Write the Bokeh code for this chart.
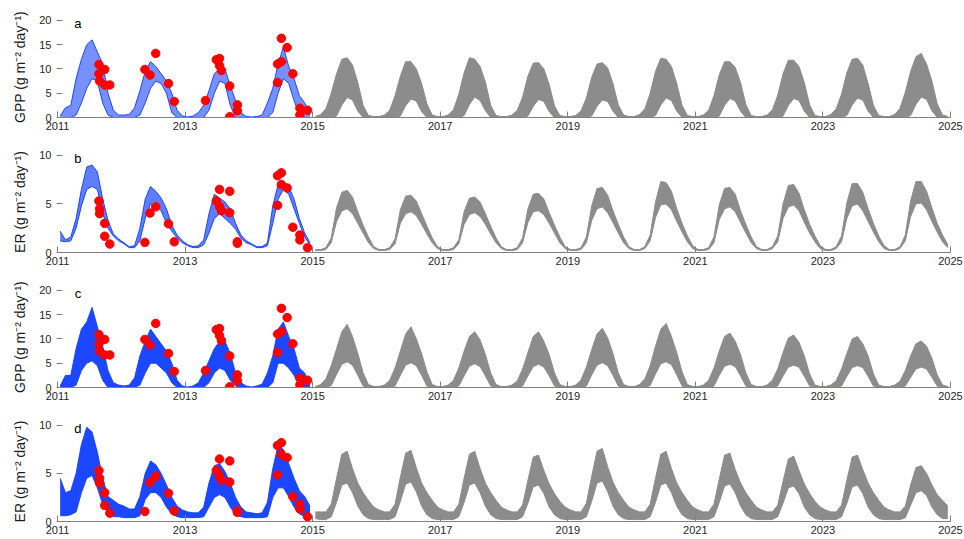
from bokeh.plotting import figure
from bokeh.layouts import column
from bokeh.models import Label, FixedTicker
from bokeh.embed import file_html
from bokeh.resources import INLINE

OBS_YEARS = [2011, 2012, 2013, 2014]
MOD_YEARS = [2015, 2016, 2017, 2018, 2019, 2020, 2021, 2022, 2023, 2024]
X_TICKS = [2011, 2013, 2015, 2017, 2019, 2021, 2023, 2025]

# ---------- panel a: GPP ----------
A_OBS_HI = [
    [0.3, 2.0, 2.5, 8.0, 12.0, 15.0, 16.0, 13.5, 11.0, 5.0, 1.5, 0.5],
    [0.5, 0.6, 2.0, 5.5, 9.5, 11.5, 10.5, 9.0, 7.5, 5.0, 1.5, 0.3],
    [0.1, 0.3, 1.0, 2.5, 5.5, 9.0, 10.0, 10.0, 6.5, 3.5, 1.0, 0.2],
    [0.1, 0.2, 0.5, 3.0, 6.0, 11.0, 14.5, 10.5, 8.0, 4.5, 3.0, 0.5],
]
A_OBS_LO = [
    [0, 0, 0, 0.5, 3.0, 6.0, 8.0, 7.5, 3.0, 0.5, 0, 0],
    [0, 0, 0, 0.5, 3.0, 6.0, 7.5, 7.0, 5.0, 1.0, 0, 0],
    [0, 0, 0, 0, 1.5, 5.0, 7.5, 7.0, 2.5, 0, 0, 0],
    [0, 0, 0, 0, 1.0, 5.0, 8.0, 7.0, 3.5, 0.5, 0, 0],
]
A_MOD_HI = [
    [0.2, 0.6, 1.8, 5.0, 9.0, 12.0, 12.3, 10.8, 7.2, 2.5, 0.4, 0.2],
    [0.2, 0.5, 1.5, 4.5, 8.5, 11.5, 11.5, 10.0, 7.0, 2.8, 0.5, 0.2],
    [0.2, 0.5, 1.6, 4.8, 9.2, 12.3, 12.0, 10.5, 7.3, 2.5, 0.4, 0.2],
    [0.2, 0.5, 1.5, 4.2, 8.5, 11.2, 11.3, 10.0, 6.8, 2.4, 0.4, 0.2],
    [0.2, 0.4, 1.4, 4.0, 8.3, 11.0, 11.3, 10.2, 7.0, 2.6, 0.5, 0.2],
    [0.2, 0.6, 1.8, 5.0, 9.5, 12.2, 12.0, 10.5, 7.0, 2.5, 0.4, 0.2],
    [0.2, 0.5, 1.5, 4.5, 8.8, 11.5, 11.5, 10.3, 7.2, 2.7, 0.4, 0.2],
    [0.2, 0.5, 1.6, 4.6, 9.0, 11.8, 11.8, 10.5, 7.2, 2.6, 0.4, 0.2],
    [0.2, 0.6, 1.8, 4.8, 9.2, 12.0, 12.2, 10.8, 7.0, 2.5, 0.4, 0.2],
    [0.2, 0.6, 1.9, 5.2, 9.5, 12.5, 13.2, 11.0, 7.5, 2.8, 0.5, 0.2],
]
A_MOD_LO = [
    [0, 0, 0, 0, 0.3, 2.6, 4.1, 3.6, 1.3, 0, 0, 0],
    [0, 0, 0, 0, 0.3, 2.4, 3.8, 3.4, 1.2, 0, 0, 0],
    [0, 0, 0, 0, 0.4, 2.7, 4.2, 3.5, 1.4, 0, 0, 0],
    [0, 0, 0, 0, 0.3, 2.3, 3.7, 3.3, 1.2, 0, 0, 0],
    [0, 0, 0, 0, 0.3, 2.3, 3.6, 3.3, 1.3, 0, 0, 0],
    [0, 0, 0, 0, 0.4, 2.6, 4.0, 3.5, 1.3, 0, 0, 0],
    [0, 0, 0, 0, 0.3, 2.5, 3.9, 3.4, 1.3, 0, 0, 0],
    [0, 0, 0, 0, 0.3, 2.5, 3.9, 3.5, 1.3, 0, 0, 0],
    [0, 0, 0, 0, 0.4, 2.6, 4.0, 3.6, 1.3, 0, 0, 0],
    [0, 0, 0, 0, 0.4, 2.7, 4.2, 3.7, 1.4, 0, 0, 0],
]

# ---------- panel b: ER ----------
B_OBS_HI = [
    [2.2, 1.3, 1.6, 3.5, 6.5, 8.8, 9.0, 8.3, 5.5, 3.3, 1.9, 1.4],
    [1.0, 0.6, 0.7, 2.5, 5.5, 6.8, 6.3, 5.6, 4.5, 2.8, 1.8, 1.2],
    [0.8, 0.6, 0.7, 1.3, 4.0, 6.0, 5.6, 5.2, 4.5, 3.0, 1.8, 1.2],
    [0.9, 0.6, 0.6, 1.0, 4.8, 7.0, 7.3, 6.8, 5.5, 3.5, 2.0, 1.0],
]
B_OBS_LO = [
    [1.2, 1.1, 1.2, 2.5, 4.8, 6.5, 6.8, 6.5, 4.0, 2.5, 1.7, 1.2],
    [0.9, 0.5, 0.5, 1.2, 3.5, 5.0, 4.8, 4.3, 3.0, 2.2, 1.5, 1.0],
    [0.7, 0.5, 0.5, 0.8, 2.0, 3.5, 4.0, 3.5, 3.0, 2.4, 1.5, 1.0],
    [0.8, 0.5, 0.5, 0.7, 3.0, 5.5, 6.5, 6.0, 4.5, 3.0, 1.6, 0.8],
]
B_MOD_HI = [
    [0.3, 0.3, 0.5, 1.5, 4.6, 6.2, 6.4, 5.7, 4.2, 2.8, 1.6, 0.6],
    [0.3, 0.3, 0.5, 1.4, 4.4, 5.8, 5.9, 5.3, 4.0, 2.7, 1.5, 0.6],
    [0.3, 0.3, 0.5, 1.3, 4.2, 5.6, 5.7, 5.2, 4.0, 2.7, 1.5, 0.6],
    [0.3, 0.3, 0.5, 1.5, 4.5, 6.0, 6.1, 5.5, 4.1, 2.8, 1.6, 0.6],
    [0.3, 0.3, 0.5, 1.6, 4.8, 6.6, 6.7, 5.9, 4.3, 2.9, 1.6, 0.6],
    [0.3, 0.3, 0.6, 1.8, 5.2, 7.3, 7.2, 6.3, 4.5, 3.0, 1.7, 0.7],
    [0.3, 0.3, 0.5, 1.6, 4.9, 6.6, 6.7, 6.0, 4.3, 2.9, 1.6, 0.6],
    [0.3, 0.3, 0.6, 1.7, 5.0, 6.9, 7.0, 6.1, 4.4, 2.9, 1.7, 0.7],
    [0.3, 0.3, 0.6, 1.7, 5.1, 7.1, 7.1, 6.2, 4.5, 3.0, 1.7, 0.7],
    [0.3, 0.3, 0.6, 1.8, 5.3, 7.3, 7.3, 6.3, 4.6, 3.0, 1.8, 0.8],
]
B_MOD_LO = [
    [0.2, 0.2, 0.3, 1.0, 3.2, 4.3, 4.5, 4.0, 3.0, 2.0, 1.0, 0.4],
    [0.2, 0.2, 0.3, 0.9, 3.0, 4.0, 4.2, 3.8, 2.9, 1.9, 1.0, 0.4],
    [0.2, 0.2, 0.3, 0.9, 2.9, 3.9, 4.1, 3.7, 2.9, 1.9, 1.0, 0.4],
    [0.2, 0.2, 0.3, 1.0, 3.1, 4.2, 4.3, 3.9, 3.0, 2.0, 1.0, 0.4],
    [0.2, 0.2, 0.3, 1.0, 3.3, 4.5, 4.7, 4.1, 3.1, 2.0, 1.0, 0.4],
    [0.2, 0.2, 0.4, 1.2, 3.6, 4.9, 5.0, 4.4, 3.2, 2.1, 1.1, 0.4],
    [0.2, 0.2, 0.3, 1.0, 3.4, 4.5, 4.7, 4.2, 3.1, 2.0, 1.0, 0.4],
    [0.2, 0.2, 0.4, 1.1, 3.5, 4.7, 4.9, 4.3, 3.1, 2.0, 1.1, 0.4],
    [0.2, 0.2, 0.4, 1.1, 3.5, 4.8, 5.0, 4.3, 3.2, 2.1, 1.1, 0.4],
    [0.2, 0.2, 0.4, 1.2, 3.7, 5.0, 5.1, 4.4, 3.2, 2.1, 1.1, 0.5],
]

# ---------- panel c: GPP (ensemble) ----------
C_OBS_HI = [
    [0.3, 2.5, 2.5, 8.0, 12.0, 13.5, 16.5, 12.5, 8.5, 3.5, 1.0, 0.5],
    [0.3, 0.5, 2.0, 6.5, 9.5, 12.0, 10.5, 9.0, 7.5, 5.0, 1.5, 0.3],
    [0.1, 0.3, 1.0, 3.0, 5.5, 8.0, 9.5, 9.5, 7.0, 3.0, 1.0, 0.3],
    [0.1, 0.3, 0.7, 3.0, 6.5, 12.0, 13.5, 10.5, 8.0, 4.0, 3.0, 0.5],
]
C_OBS_LO = [
    [0, 0, 0, 0.5, 3.5, 5.0, 5.5, 4.5, 1.5, 0, 0, 0],
    [0, 0, 0, 0.5, 3.0, 5.0, 5.0, 4.0, 3.0, 1.0, 0, 0],
    [0, 0, 0, 0, 1.0, 3.0, 4.0, 3.5, 1.5, 0.3, 0, 0],
    [0, 0, 0, 0, 1.0, 5.0, 5.0, 4.0, 2.5, 0.5, 0, 0],
]
C_MOD_HI = [
    [0.2, 0.6, 1.8, 4.5, 8.0, 11.5, 13.0, 10.5, 7.0, 3.0, 0.6, 0.2],
    [0.2, 0.5, 1.5, 4.0, 7.5, 11.0, 12.5, 10.0, 7.0, 3.2, 0.6, 0.2],
    [0.2, 0.5, 1.5, 4.0, 7.5, 10.5, 11.5, 9.8, 6.8, 3.0, 0.6, 0.2],
    [0.2, 0.5, 1.4, 3.8, 7.2, 10.5, 11.5, 9.5, 6.8, 3.0, 0.6, 0.2],
    [0.2, 0.5, 1.6, 4.2, 7.8, 11.0, 12.2, 10.2, 7.0, 3.0, 0.6, 0.2],
    [0.2, 0.6, 1.8, 4.5, 8.5, 12.0, 13.2, 10.5, 7.2, 3.2, 0.6, 0.2],
    [0.2, 0.5, 1.5, 4.0, 7.5, 10.5, 11.2, 9.5, 6.8, 3.0, 0.6, 0.2],
    [0.2, 0.5, 1.5, 3.8, 7.2, 10.2, 10.8, 9.3, 6.5, 2.8, 0.5, 0.2],
    [0.2, 0.5, 1.4, 3.8, 7.0, 10.0, 10.5, 9.0, 6.5, 2.8, 0.5, 0.2],
    [0.2, 0.5, 1.3, 3.5, 6.5, 9.0, 9.6, 8.5, 6.0, 2.6, 0.5, 0.2],
]
C_MOD_LO = [
    [0, 0, 0, 0.4, 2.7, 4.8, 5.3, 4.6, 2.5, 0.3, 0, 0],
    [0, 0, 0, 0.3, 2.5, 4.6, 5.1, 4.5, 2.5, 0.3, 0, 0],
    [0, 0, 0, 0.3, 2.4, 4.4, 4.9, 4.3, 2.4, 0.3, 0, 0],
    [0, 0, 0, 0.3, 2.4, 4.3, 4.8, 4.2, 2.4, 0.3, 0, 0],
    [0, 0, 0, 0.3, 2.6, 4.6, 5.1, 4.5, 2.5, 0.3, 0, 0],
    [0, 0, 0, 0.4, 2.8, 4.9, 5.3, 4.7, 2.6, 0.3, 0, 0],
    [0, 0, 0, 0.3, 2.5, 4.4, 4.8, 4.3, 2.4, 0.3, 0, 0],
    [0, 0, 0, 0.3, 2.4, 4.2, 4.6, 4.2, 2.3, 0.3, 0, 0],
    [0, 0, 0, 0.3, 2.3, 4.1, 4.5, 4.1, 2.3, 0.3, 0, 0],
    [0, 0, 0, 0.3, 2.1, 3.8, 4.2, 3.8, 2.1, 0.3, 0, 0],
]

# ---------- panel d: ER (ensemble) ----------
D_OBS_HI = [
    [4.5, 3.0, 3.2, 5.0, 8.0, 9.8, 9.3, 7.2, 4.5, 2.6, 2.2, 1.8],
    [1.6, 1.3, 1.3, 2.6, 5.0, 6.3, 5.9, 5.0, 3.8, 2.5, 1.6, 1.2],
    [1.0, 0.9, 0.9, 1.5, 4.0, 5.8, 6.0, 5.2, 4.0, 2.5, 1.5, 1.0],
    [0.9, 0.8, 0.9, 2.0, 5.5, 7.9, 7.5, 6.0, 4.5, 3.2, 2.6, 1.6],
]
D_OBS_LO = [
    [0.6, 0.6, 0.7, 1.0, 3.0, 4.5, 4.8, 3.5, 1.8, 1.0, 0.5, 0.5],
    [0.4, 0.4, 0.4, 0.6, 2.3, 3.0, 3.0, 2.5, 1.5, 0.8, 0.5, 0.4],
    [0.4, 0.4, 0.4, 0.5, 1.5, 2.5, 2.8, 2.5, 1.5, 0.7, 0.5, 0.4],
    [0.4, 0.4, 0.4, 0.5, 2.5, 3.5, 3.5, 2.6, 1.5, 0.8, 0.5, 0.5],
]
D_MOD_HI = [
    [1.0, 1.0, 1.0, 1.8, 4.5, 7.0, 7.3, 5.5, 4.0, 3.0, 2.2, 1.5],
    [1.2, 1.0, 1.0, 1.8, 4.6, 7.1, 7.4, 5.6, 4.0, 3.0, 2.2, 1.5],
    [1.2, 1.0, 1.0, 1.8, 4.5, 7.0, 7.3, 5.5, 4.0, 3.0, 2.2, 1.5],
    [1.2, 1.0, 1.0, 1.7, 4.3, 6.7, 6.9, 5.3, 3.9, 2.9, 2.1, 1.5],
    [1.2, 1.0, 1.0, 1.9, 4.7, 7.3, 7.6, 5.7, 4.1, 3.0, 2.2, 1.5],
    [1.2, 1.0, 1.0, 1.8, 4.5, 7.0, 7.3, 5.5, 4.0, 3.0, 2.2, 1.5],
    [1.2, 1.0, 1.0, 1.8, 4.4, 6.9, 7.1, 5.4, 4.0, 3.0, 2.2, 1.5],
    [1.2, 1.0, 1.0, 1.7, 4.2, 6.5, 6.8, 5.3, 3.9, 2.9, 2.1, 1.5],
    [1.2, 1.0, 1.0, 1.7, 4.3, 6.7, 6.9, 5.4, 4.0, 3.0, 2.2, 1.5],
    [1.2, 1.0, 1.0, 1.6, 3.8, 5.6, 5.8, 5.0, 3.8, 2.8, 2.2, 1.6],
]
D_MOD_LO = [
    [0.3, 0.2, 0.2, 0.5, 2.0, 3.8, 4.0, 3.0, 1.6, 0.7, 0.3, 0.2],
    [0.2, 0.2, 0.2, 0.5, 2.1, 3.9, 4.1, 3.1, 1.6, 0.7, 0.3, 0.2],
    [0.2, 0.2, 0.2, 0.5, 2.0, 3.8, 4.0, 3.0, 1.6, 0.7, 0.3, 0.2],
    [0.2, 0.2, 0.2, 0.5, 1.9, 3.6, 3.8, 2.9, 1.5, 0.7, 0.3, 0.2],
    [0.2, 0.2, 0.2, 0.5, 2.1, 4.0, 4.2, 3.1, 1.6, 0.7, 0.3, 0.2],
    [0.2, 0.2, 0.2, 0.5, 2.0, 3.8, 4.0, 3.0, 1.6, 0.7, 0.3, 0.2],
    [0.2, 0.2, 0.2, 0.5, 2.0, 3.7, 3.9, 3.0, 1.6, 0.7, 0.3, 0.2],
    [0.2, 0.2, 0.2, 0.5, 1.9, 3.5, 3.7, 2.9, 1.5, 0.7, 0.3, 0.2],
    [0.2, 0.2, 0.2, 0.5, 1.9, 3.6, 3.8, 2.9, 1.5, 0.7, 0.3, 0.2],
    [0.2, 0.2, 0.2, 0.4, 1.7, 3.0, 3.2, 2.7, 1.5, 0.7, 0.3, 0.3],
]

# ---------- measured points (red) ----------
DOT_T_GPP = [2011.65, 2011.65, 2011.66, 2011.74, 2011.74, 2011.82, 2012.37, 2012.45,
             2012.54, 2012.74, 2012.83, 2013.32, 2013.49, 2013.54, 2013.54, 2013.57,
             2013.70, 2013.82, 2013.82, 2013.70, 2014.45, 2014.45, 2014.51, 2014.51,
             2014.60, 2014.69, 2014.80, 2014.80, 2014.92]
DOT_GPP = [10.9, 9.0, 7.5, 9.9, 6.7, 6.7, 9.9, 8.75, 13.2, 7.0, 3.3, 3.5, 11.9, 12.15,
           10.7, 9.7, 6.5, 2.6, 1.4, 0.15, 11.0, 7.2, 16.3, 11.5, 14.4, 9.0, 1.9, 0.55, 1.5]
DOT_T_ER = [2011.65, 2011.66, 2011.66, 2011.74, 2011.74, 2011.82, 2012.37, 2012.45,
            2012.54, 2012.74, 2012.83, 2013.49, 2013.54, 2013.54, 2013.57, 2013.70,
            2013.70, 2013.82, 2013.82, 2014.45, 2014.45, 2014.51, 2014.51, 2014.60,
            2014.69, 2014.80, 2014.80, 2014.92]
DOT_ER = [5.3, 4.5, 4.0, 3.0, 1.67, 0.87, 1.04, 4.06, 4.7, 2.95, 1.1, 5.3, 6.5, 4.75,
          4.3, 6.3, 4.1, 1.1, 0.95, 4.86, 7.9, 8.2, 7.0, 6.65, 2.6, 1.8, 1.3, 0.5]

BLUE = "#1a47ff"
GRAY = "#8c8c8c"
RED = "#ff0000"
FONT = "Liberation Sans"


def flat(rows):
    return [v for r in rows for v in r]


def times(years):
    return [y + (m + 0.5) / 12.0 for y in years for m in range(12)]


def band(p, years, hi, lo, color, alpha):
    t = times(years)
    h = flat(hi)
    l = flat(lo)
    p.varea(x=t, y1=l, y2=h, fill_color=color, fill_alpha=alpha)
    p.line(t, h, line_color=color, line_width=1)
    p.line(t, l, line_color=color, line_width=1)


def panel(height, ymax, yticks, ylabel, letter):
    p = figure(width=964, height=height, x_range=(2011, 2025),
               y_range=(0, ymax * 1.04),
               output_backend="svg", toolbar_location=None,
               min_border_left=57, min_border_right=14,
               min_border_top=16, min_border_bottom=18)
    p.outline_line_color = None
    p.xgrid.visible = False
    p.ygrid.visible = False
    p.background_fill_color = "white"
    p.border_fill_color = "white"

    xa = p.xaxis[0]
    xa.ticker = FixedTicker(ticks=X_TICKS)
    xa.formatter.use_scientific = False
    xa.minor_tick_line_color = None
    xa.major_tick_in = 6
    xa.major_tick_out = 0
    xa.major_tick_line_color = "#808080"
    xa.axis_line_color = "#808080"
    xa.axis_line_width = 1.2
    xa.major_label_text_font = FONT
    xa.major_label_text_font_size = "11px"
    xa.major_label_text_color = "#262626"
    xa.major_label_standoff = 4

    ya = p.yaxis[0]
    ya.ticker = FixedTicker(ticks=yticks)
    ya.minor_tick_line_color = None
    ya.major_tick_in = 5
    ya.major_tick_out = 1
    ya.major_tick_line_color = "#808080"
    ya.axis_line_color = None
    ya.major_label_text_font = FONT
    ya.major_label_text_font_size = "11px"
    ya.major_label_text_color = "#262626"
    ya.major_label_standoff = 5
    ya.axis_label = ylabel
    ya.axis_label_text_font = FONT
    ya.axis_label_text_font_size = "14px"
    ya.axis_label_text_font_style = "normal"
    ya.axis_label_text_color = "#1a1a1a"
    ya.axis_label_standoff = 8

    p.add_layout(Label(x=2011.32, y=ymax * 0.97, text=letter, text_font=FONT,
                       text_font_size="13px", text_color="black",
                       text_align="center", text_baseline="middle"))
    return p


GPP_LABEL = "GPP (g m\u207b\u00b2 day\u207b\u00b9)"
ER_LABEL = "ER (g m\u207b\u00b2 day\u207b\u00b9)"

pa = panel(135, 20, [0, 5, 10, 15, 20], GPP_LABEL, "a")
band(pa, MOD_YEARS, A_MOD_HI, A_MOD_LO, GRAY, 1.0)
band(pa, OBS_YEARS, A_OBS_HI, A_OBS_LO, BLUE, 0.6)
pa.scatter(DOT_T_GPP, DOT_GPP, size=8.5, fill_color=RED, line_color=RED)

pb = panel(135, 10, [0, 5, 10], ER_LABEL, "b")
band(pb, MOD_YEARS, B_MOD_HI, B_MOD_LO, GRAY, 1.0)
band(pb, OBS_YEARS, B_OBS_HI, B_OBS_LO, BLUE, 0.7)
pb.scatter(DOT_T_ER, DOT_ER, size=8.5, fill_color=RED, line_color=RED)

pc = panel(135, 20, [0, 5, 10, 15, 20], GPP_LABEL, "c")
band(pc, MOD_YEARS, C_MOD_HI, C_MOD_LO, GRAY, 1.0)
band(pc, OBS_YEARS, C_OBS_HI, C_OBS_LO, BLUE, 1.0)
pc.scatter(DOT_T_GPP, DOT_GPP, size=8.5, fill_color=RED, line_color=RED)

pd_ = panel(134, 10, [0, 5, 10], ER_LABEL, "d")
band(pd_, MOD_YEARS, D_MOD_HI, D_MOD_LO, GRAY, 1.0)
band(pd_, OBS_YEARS, D_OBS_HI, D_OBS_LO, BLUE, 1.0)
pd_.scatter(DOT_T_ER, DOT_ER, size=8.5, fill_color=RED, line_color=RED)

layout = column(pa, pb, pc, pd_, spacing=0)
with open("out.html", "w") as f:
    f.write(file_html(layout, INLINE))
